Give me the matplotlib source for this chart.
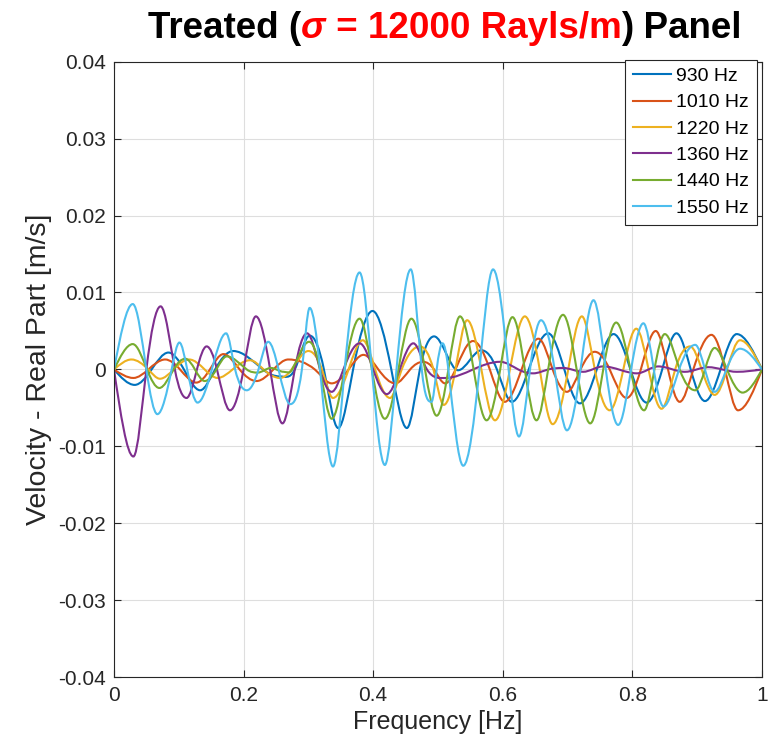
import numpy as np
import matplotlib.pyplot as plt
from matplotlib.path import Path
from matplotlib.patches import PathPatch
from matplotlib.lines import Line2D

plt.rcParams['font.family'] = ['Liberation Sans', 'DejaVu Sans']

# values: extrema and zero crossings of each curve
f930 = [0, 0.032, 0.058, 0.084, 0.108, 0.133, 0.156, 0.184, 0.230, 0.256, 0.279, 0.302, 0.324, 0.346,
        0.369, 0.399, 0.428, 0.452, 0.472, 0.494, 0.531, 0.567, 0.591, 0.614, 0.640, 0.670, 0.695,
        0.719, 0.745, 0.771, 0.797, 0.822, 0.846, 0.868, 0.890, 0.912, 0.936, 0.961, 1.0]
v930 = [0, -0.0020, 0, 0.0022, 0, -0.0027, 0, 0.0024, 0, -0.0009, 0, 0.0044, 0, -0.0076,
        0, 0.0076, 0, -0.0076, 0, 0.0043, -0.0001, 0.0025, 0, -0.0042, 0, 0.0047, 0,
        -0.0044, 0, 0.0046, 0, -0.0043, 0, 0.0047, 0, -0.0041, 0, 0.0046, 0]

f1010 = [0, 0.030, 0.053, 0.079, 0.102, 0.127, 0.148, 0.169, 0.194, 0.220, 0.246, 0.269, 0.310, 0.336,
         0.362, 0.385, 0.408, 0.434, 0.457, 0.477, 0.494, 0.511, 0.527, 0.554, 0.580, 0.603, 0.629,
         0.655, 0.677, 0.699, 0.720, 0.742, 0.765, 0.791, 0.813, 0.836, 0.855, 0.873, 0.894, 0.922,
         0.943, 0.963, 1.0]
v1010 = [0, -0.0011, 0, 0.0013, 0, -0.0017, 0, 0.0020, 0, -0.0015, 0, 0.0013, 0, -0.0018,
         0, 0.0019, 0, -0.0018, 0, 0.0010, 0, -0.0018, 0, 0.0037, 0, -0.0042, 0,
         0.0040, 0, -0.0029, 0, 0.0023, 0, -0.0037, 0, 0.0050, 0, -0.0042, 0, 0.0045,
         0, -0.0053, 0]

f1220 = [0, 0.027, 0.053, 0.071, 0.092, 0.116, 0.140, 0.160, 0.183, 0.210, 0.231, 0.256, 0.274, 0.300,
         0.321, 0.338, 0.362, 0.384, 0.403, 0.426, 0.444, 0.472, 0.493, 0.509, 0.527, 0.545, 0.567,
         0.588, 0.611, 0.634, 0.657, 0.677, 0.701, 0.722, 0.742, 0.765, 0.786, 0.806, 0.825, 0.845,
         0.866, 0.889, 0.907, 0.927, 0.946, 0.966, 1.0]
v1220 = [0, 0.0013, 0, -0.0012, 0, 0.0013, 0, -0.0011, 0, 0.0012, 0, -0.0011, 0, 0.0024,
         0, -0.0037, 0, 0.0038, 0, -0.0037, 0, 0.0030, 0, -0.0046, 0, 0.0064, 0,
         -0.0066, 0, 0.0069, 0, -0.0071, 0, 0.0069, 0, -0.0053, 0, 0.0053, 0, -0.0051,
         0, 0.0030, 0, -0.0033, 0, 0.0038, 0]

f1360 = [0, 0.030, 0.050, 0.072, 0.094, 0.112, 0.128, 0.143, 0.159, 0.179, 0.200, 0.219, 0.241, 0.260,
         0.279, 0.298, 0.318, 0.336, 0.354, 0.379, 0.400, 0.421, 0.441, 0.462, 0.483, 0.512, 0.554,
         0.596, 0.624, 0.647, 0.670, 0.693, 0.724, 0.755, 0.807, 0.840, 0.881, 0.917, 0.961, 1.0]
v1360 = [0, -0.0113, 0, 0.0082, 0, -0.0037, 0, 0.0030, 0, -0.0053, 0, 0.0069, 0, -0.0070,
         0, 0.0047, 0, -0.0029, 0, 0.0034, 0, -0.0032, 0, 0.0034, 0, -0.0011, 0,
         0.0010, 0, -0.0005, 0, 0.0002, -0.0003, 0.0004, -0.0005, 0.0004, -0.0003, 0.0003, -0.0003, 0]

f1440 = [0, 0.029, 0.051, 0.070, 0.092, 0.110, 0.125, 0.140, 0.158, 0.174, 0.205, 0.222, 0.242, 0.262,
         0.275, 0.301, 0.318, 0.336, 0.356, 0.379, 0.398, 0.418, 0.439, 0.459, 0.480, 0.498, 0.516,
         0.534, 0.555, 0.575, 0.596, 0.615, 0.634, 0.652, 0.670, 0.693, 0.714, 0.735, 0.755, 0.775,
         0.797, 0.818, 0.834, 0.850, 0.873, 0.897, 0.912, 0.927, 0.946, 0.970, 1.0]
v1440 = [0, 0.0033, 0, -0.0024, 0, 0.0014, 0, -0.0015, 0, 0.0017, 0, -0.0004, 0.0002, -0.0003,
         0, 0.0036, 0, -0.0064, 0, 0.0066, 0, -0.0064, 0, 0.0066, 0, -0.0060, 0,
         0.0069, 0, -0.0066, 0, 0.0068, 0, -0.0066, 0, 0.0071, 0, -0.0070, 0, 0.0061,
         0, -0.0053, 0, 0.0046, 0, -0.0027, 0, 0.0028, 0, -0.0030, 0]

f1550 = [0, 0.029, 0.050, 0.067, 0.089, 0.101, 0.113, 0.129, 0.151, 0.173, 0.187, 0.205, 0.223, 0.238,
         0.254, 0.272, 0.290, 0.302, 0.318, 0.338, 0.356, 0.379, 0.398, 0.418, 0.436, 0.458, 0.475,
         0.490, 0.498, 0.507, 0.516, 0.539, 0.564, 0.585, 0.609, 0.625, 0.642, 0.659, 0.680, 0.699,
         0.720, 0.740, 0.759, 0.778, 0.798, 0.817, 0.833, 0.848, 0.872, 0.897, 0.912, 0.927, 0.945,
         0.966, 1.0]
v1550 = [0, 0.0085, 0, -0.0058, 0, 0.0035, 0, -0.0043, 0, 0.0047, 0, -0.0027, 0, 0.0036,
         0, -0.0045, 0, 0.0080, 0, -0.0126, 0, 0.0126, 0, -0.0124, 0, 0.0130, 0,
         -0.0042, 0, 0.0034, 0, -0.0125, 0, 0.0130, 0, -0.0087, 0, 0.0064, 0, -0.0079,
         0, 0.0090, 0, -0.0072, 0, 0.0060, 0, -0.0048, 0, 0.0032, 0, -0.0029, 0,
         0.0027, 0]

labels = ['930 Hz', '1010 Hz', '1220 Hz', '1360 Hz', '1440 Hz', '1550 Hz']
colors = ['#0072BD', '#D95319', '#EDB120', '#7E2F8E', '#77AC30', '#4DBEEE']
series = [(f930, v930), (f1010, v1010), (f1220, v1220),
          (f1360, v1360), (f1440, v1440), (f1550, v1550)]

xticks = [0, 0.2, 0.4, 0.6, 0.8, 1]
xticklabels = ['0', '0.2', '0.4', '0.6', '0.8', '1']
yticks = [-0.04, -0.03, -0.02, -0.01, 0, 0.01, 0.02, 0.03, 0.04]
yticklabels = ['-0.04', '-0.03', '-0.02', '-0.01', '0', '0.01', '0.02', '0.03', '0.04']


def bezier_path(xs, ys):
    # smooth curve through the read points (flat at extrema)
    xs = np.asarray(xs, float)
    ys = np.asarray(ys, float)
    n = len(xs)
    m = np.zeros(n)
    for i in range(n):
        if i == 0:
            m[i] = 1.5 * (ys[1] - ys[0]) / (xs[1] - xs[0])
        elif i == n - 1:
            m[i] = 1.5 * (ys[-1] - ys[-2]) / (xs[-1] - xs[-2])
        elif (ys[i] - ys[i - 1]) * (ys[i + 1] - ys[i]) <= 0:
            m[i] = 0
        else:
            m[i] = 1.5 * (ys[i + 1] - ys[i - 1]) / (xs[i + 1] - xs[i - 1])
    verts = [(xs[0], ys[0])]
    codes = [Path.MOVETO]
    for i in range(n - 1):
        d = (xs[i + 1] - xs[i]) / 3
        verts += [(xs[i] + d, ys[i] + m[i] * d), (xs[i + 1] - d, ys[i + 1] - m[i + 1] * d), (xs[i + 1], ys[i + 1])]
        codes += [Path.CURVE4] * 3
    return Path(verts, codes)


fig = plt.figure(figsize=(7.7, 7.52), dpi=100)
ax = fig.add_axes([0.148, 0.0991, 0.8416, 0.8191])

txt = '#262626'
for (xs, ys), c in zip(series, colors):
    ax.add_patch(PathPatch(bezier_path(xs, ys), fill=False, edgecolor=c, lw=1.5))

ax.set_xlim(0, 1)
ax.set_ylim(-0.04, 0.04)
ax.set_xticks(xticks)
ax.set_xticklabels(xticklabels)
ax.set_yticks(yticks)
ax.set_yticklabels(yticklabels)
ax.grid(True, color='#dedede', lw=0.8)
ax.set_axisbelow(True)
ax.tick_params(direction='in', top=True, right=True, length=5, width=0.8,
               labelsize=15, colors=txt, pad=6)
for s in ax.spines.values():
    s.set_color(txt)
    s.set_linewidth(0.8)
ax.set_xlabel('Frequency [Hz]', fontsize=18, color=txt, labelpad=4)
ax.set_ylabel('Velocity - Real Part [m/s]', fontsize=20.5, color=txt, labelpad=4)

handles = [Line2D([], [], color=c, lw=1.5) for c in colors]
leg = ax.legend(handles, labels, loc='upper right', bbox_to_anchor=(0.992, 1.003),
                borderaxespad=0, fontsize=14, handlelength=1.95, handletextpad=0.25,
                labelspacing=0.45, fancybox=False, framealpha=1, edgecolor=txt,
                borderpad=0.4)
leg.get_frame().set_linewidth(0.8)

# title with a red middle part
parts = [('Treated (', 'black', 'normal'), ('σ', 'red', 'italic'),
         (' = 12000 Rayls/m', 'red', 'normal'), (') Panel', 'black', 'normal')]
tfam = ['Liberation Sans Narrow', 'Liberation Sans', 'DejaVu Sans']
texts = [fig.text(0, 0.949, s, color=c, fontsize=24, fontweight='bold', fontstyle=st,
                  family=tfam, va='baseline', ha='left') for s, c, st in parts]
fig.canvas.draw()
r = fig.canvas.get_renderer()
total = sum(t.get_window_extent(r).width for t in texts)
size = 24 * 594 / total
for t in texts:
    t.set_fontsize(size)
fig.canvas.draw()
widths = [t.get_window_extent(r).width for t in texts]
x = 445 - sum(widths) / 2
for t, w in zip(texts, widths):
    t.set_x(x / 770)
    x += w

fig.savefig('out.png', dpi=100)
